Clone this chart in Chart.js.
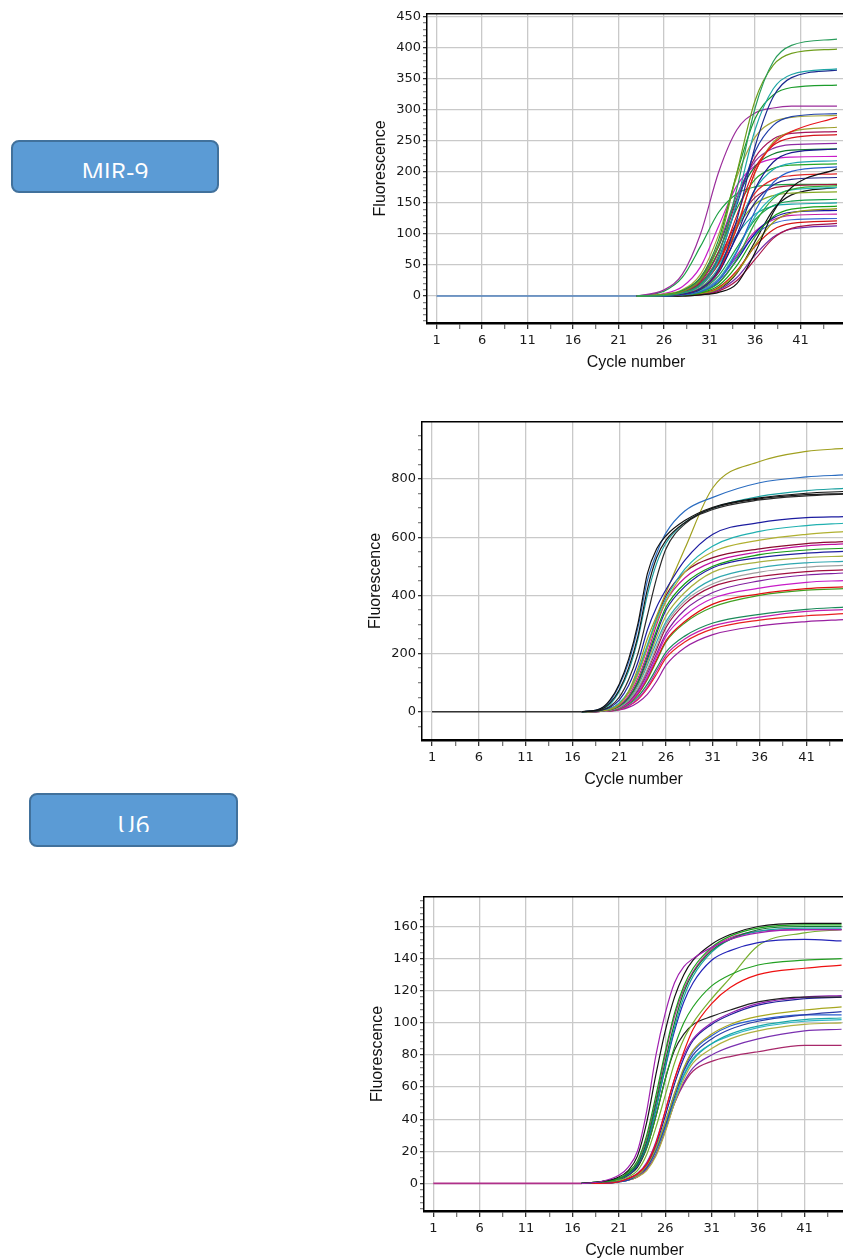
<!DOCTYPE html>
<html>
<head>
<meta charset="utf-8">
<script src="https://cdn.jsdelivr.net/npm/chart.js@4.4.1/dist/chart.umd.min.js"></script>
<style>
  html, body { margin: 0; padding: 0; background: #fff; }
  body { position: relative; width: 843px; height: 1260px; overflow: hidden; }
  canvas { position: absolute; }
  .tag { position: absolute; box-sizing: border-box; background: #5b9bd5; border: 2px solid #41719c; border-radius: 8px; }
  .tag .txt { position: absolute; left: 0; right: 0; overflow: hidden; text-align: center; color: #fff; font: 25px/25px "Open Sans", sans-serif; }
</style>
</head>
<body>
<div class="tag" style="left:11px;top:140px;width:208px;height:53px"><div class="txt" style="top:17px;height:19px">MIR-9</div></div>
<div class="tag" style="left:29px;top:793px;width:209px;height:54px"><div class="txt" style="top:17px;height:20px">U6</div></div>
<canvas id="mir9" width="488" height="369" style="left:357px;top:4px"></canvas>
<canvas id="u6a" width="493" height="378" style="left:352px;top:412px"></canvas>
<canvas id="u6b" width="491" height="374" style="left:354px;top:887px"></canvas>
<script>
// cycle ticks shared by the three amplification plots
const cycleLabels = [1, 6, 11, 16, 21, 26, 31, 36, 41];

// ---- MIR-9 ----
const mir9BaseCycles = [1, 23];
const mir9Base = [0, 0];
const mir9Cycles = [23, 26, 28, 30, 32, 34, 36, 38, 40, 45];
const mir9Runs = [
  [0, 1, 5, 19, 66, 173, 303, 378, 404, 414],
  [0, 2, 7, 26, 83, 199, 315, 372, 391, 398],
  [0, 1, 5, 17, 58, 153, 268, 334, 357, 366],
  [0, 1, 3, 12, 43, 123, 241, 321, 352, 364],
  [0, 2, 9, 30, 91, 198, 286, 324, 336, 340],
  [0, 10, 35, 100, 200, 268, 295, 303, 306, 306],
  [0, 1, 5, 19, 61, 147, 233, 275, 289, 294],
  [0, 3, 10, 35, 99, 192, 256, 281, 288, 291],
  [0, 1, 3, 12, 40, 110, 200, 245, 265, 288],
  [0, 1, 4, 13, 43, 113, 199, 248, 265, 272],
  [0, 2, 7, 23, 71, 155, 223, 253, 262, 265],
  [0, 1, 5, 17, 54, 130, 206, 243, 255, 260],
  [0, 2, 8, 29, 83, 163, 217, 238, 244, 246],
  [0, 1, 3, 11, 38, 99, 173, 216, 231, 237],
  [0, 2, 8, 28, 80, 157, 209, 229, 235, 237],
  [0, 1, 4, 14, 46, 109, 172, 204, 214, 218],
  [0, 2, 7, 25, 72, 141, 188, 206, 211, 213],
  [0, 0, 2, 7, 25, 71, 137, 183, 201, 208],
  [0, 0, 0, 2, 6, 20, 70, 135, 175, 205],
  [0, 1, 5, 17, 53, 115, 166, 188, 194, 197],
  [0, 1, 3, 12, 40, 96, 151, 179, 188, 191],
  [0, 2, 6, 21, 61, 119, 159, 174, 178, 180],
  [0, 0, 2, 6, 21, 60, 118, 157, 172, 178],
  [0, 1, 2, 8, 28, 73, 128, 160, 171, 175],
  [0, 2, 6, 20, 57, 111, 148, 162, 166, 168],
  [0, 1, 3, 10, 33, 78, 123, 146, 153, 156],
  [0, 0, 1, 5, 17, 49, 96, 128, 140, 145],
  [0, 0, 1, 4, 12, 38, 82, 119, 134, 141],
  [0, 0, 2, 6, 22, 58, 101, 126, 135, 138],
  [0, 1, 2, 9, 28, 66, 104, 123, 130, 132],
  [0, 1, 2, 8, 26, 63, 99, 117, 123, 125],
  [0, 0, 1, 4, 14, 41, 80, 107, 117, 121],
  [0, 0, 1, 2, 8, 25, 59, 93, 109, 117],
  [0, 0, 1, 3, 10, 30, 66, 95, 108, 113],
  [0, 0, 1, 3, 11, 37, 88, 139, 163, 175],
  [0, 1, 5, 18, 51, 99, 132, 145, 148, 150],
  [0, 8, 30, 80, 135, 165, 176, 179, 180, 180],
  [0, 4, 15, 47, 113, 178, 210, 221, 224, 225]
];
const mir9Colors = ['#2a9d5c', '#6f9e1c', '#20a6a6', '#1c2b8f', '#1c9c2c', '#9b2d9b', '#2040a8', '#a5a53a',
  '#e8141c', '#9e9e2a', '#a3145a', '#d4141c', '#8e2ba3', '#1a1a8e', '#117a2e', '#1da5b0', '#26a626', '#2a5fcc',
  '#111111', '#e02828', '#22228a', '#a2183a', '#33aa33', '#2ab8b8', '#86a824', '#14a04a', '#18a018', '#9a9a14',
  '#1414a6', '#c41ca8', '#3a66d6', '#d41414', '#a81448', '#7428a8', '#181818', '#14a8a8', '#1ea046', '#c81cc8'];
const mir9YLabels = [0, 50, 100, 150, 200, 250, 300, 350, 400, 450];

// ---- U6, first run ----
const u6aBaseCycles = [1, 17];
const u6aBase = [0, 0];
const u6aCycles = [17, 19, 20, 21, 22, 23, 24, 25, 26, 28, 31, 36, 41, 45];
const u6aRuns = [
  [0, 11, 40, 95, 180, 303, 474, 560, 605, 657, 703, 735, 751, 757],
  [0, 8, 30, 75, 150, 260, 420, 530, 590, 650, 700, 732, 746, 750],
  [0, 5, 18, 50, 110, 200, 330, 460, 560, 645, 695, 728, 742, 748],
  [0, 10, 35, 90, 170, 290, 450, 545, 615, 690, 737, 787, 807, 814],
  [0, 7, 25, 70, 140, 250, 400, 510, 580, 650, 700, 740, 760, 768],
  [0, 5, 15, 40, 90, 170, 280, 360, 420, 520, 610, 650, 667, 671],
  [0, 3, 8, 25, 70, 150, 250, 330, 410, 560, 770, 860, 895, 905],
  [0, 3, 10, 30, 70, 140, 230, 320, 390, 490, 570, 620, 640, 648],
  [0, 3, 10, 28, 65, 130, 220, 310, 380, 480, 550, 590, 610, 619],
  [0, 3, 10, 28, 65, 130, 220, 320, 400, 480, 530, 560, 578, 585],
  [0, 2, 8, 22, 55, 115, 200, 300, 380, 460, 515, 550, 570, 577],
  [0, 2, 7, 20, 50, 105, 190, 280, 360, 440, 500, 540, 556, 562],
  [0, 2, 7, 20, 48, 100, 180, 270, 350, 430, 495, 530, 545, 551],
  [0, 2, 6, 18, 45, 95, 170, 255, 330, 410, 480, 515, 530, 535],
  [0, 2, 6, 17, 42, 90, 160, 240, 310, 390, 455, 495, 512, 517],
  [0, 2, 5, 15, 38, 80, 145, 225, 300, 380, 440, 480, 497, 503],
  [0, 2, 5, 15, 36, 78, 140, 215, 290, 370, 430, 465, 482, 488],
  [0, 1, 5, 14, 34, 72, 130, 200, 270, 350, 410, 450, 470, 477],
  [0, 1, 4, 12, 30, 65, 120, 190, 260, 330, 390, 425, 445, 451],
  [0, 1, 4, 12, 30, 62, 115, 180, 245, 310, 370, 405, 423, 429],
  [0, 1, 4, 11, 28, 60, 110, 175, 240, 305, 360, 400, 418, 423],
  [0, 1, 3, 10, 25, 52, 95, 150, 205, 260, 305, 335, 352, 360],
  [0, 1, 3, 8, 20, 45, 85, 140, 195, 250, 295, 325, 345, 351],
  [0, 1, 3, 8, 20, 42, 80, 130, 185, 240, 285, 315, 330, 337],
  [0, 1, 2, 6, 15, 32, 60, 105, 160, 220, 265, 295, 310, 317]
];
const u6aColors = ['#111111', '#1a1a1a', '#2a2a2a', '#2a6cc0', '#1aa0a0', '#1c1ca0', '#a0a020', '#20b0b0',
  '#b0b030', '#8b0a30', '#c010a0', '#149a14', '#2020a0', '#a8b040', '#30a8b0', '#a0a0a0', '#a01040',
  '#8020a0', '#c81cc8', '#e01010', '#40a020', '#1a8a5a', '#c020b0', '#e82020', '#9a20a0'];
const u6aYLabels = [0, 200, 400, 600, 800];

// ---- U6, second run ----
const u6bBaseCycles = [1, 17];
const u6bBase = [0, 0];
const u6bCycles = [17, 19, 21, 22, 23, 24, 25, 26, 27, 28, 29, 31, 33, 36, 41, 45];
const u6bRuns = [
  [0, 1, 5, 10, 20, 45, 80, 106, 125, 135, 140, 147, 152, 156, 158, 158],
  [0, 1, 4, 8, 17, 38, 68, 95, 116, 130, 139, 149, 155, 160, 162, 162],
  [0, 1, 3, 7, 14, 30, 55, 82, 106, 123, 134, 147, 154, 159, 161, 161],
  [0, 1, 3, 6, 12, 26, 50, 76, 100, 119, 131, 145, 152, 158, 160, 160],
  [0, 1, 3, 6, 12, 25, 47, 73, 97, 116, 129, 144, 152, 157, 159, 159],
  [0, 1, 3, 6, 13, 28, 52, 80, 104, 121, 132, 146, 153, 157, 158, 158],
  [0, 1, 3, 5, 11, 24, 46, 72, 95, 113, 125, 139, 145, 150, 152, 151],
  [0, 1, 3, 5, 11, 22, 42, 65, 85, 100, 110, 123, 130, 136, 139, 140],
  [0, 1, 2, 4, 8, 18, 35, 55, 75, 90, 100, 115, 128, 148, 156, 158],
  [0, 0, 1, 3, 6, 12, 25, 45, 65, 82, 96, 112, 122, 130, 134, 136],
  [0, 1, 2, 5, 10, 22, 42, 65, 83, 93, 99, 104, 108, 113, 116, 116],
  [0, 0, 1, 3, 6, 13, 26, 45, 65, 80, 90, 100, 106, 112, 116, 117],
  [0, 0, 1, 3, 6, 12, 24, 42, 62, 78, 89, 99, 105, 111, 115, 116],
  [0, 0, 1, 3, 5, 11, 22, 38, 56, 72, 83, 93, 99, 104, 108, 110],
  [0, 0, 1, 2, 5, 10, 21, 36, 54, 70, 80, 90, 96, 101, 105, 107],
  [0, 0, 1, 2, 5, 10, 20, 35, 52, 67, 77, 87, 93, 98, 102, 103],
  [0, 0, 1, 3, 6, 12, 22, 38, 55, 68, 78, 87, 92, 97, 101, 102],
  [0, 0, 1, 2, 4, 8, 17, 32, 50, 65, 75, 84, 90, 95, 99, 100],
  [0, 0, 1, 2, 4, 9, 18, 33, 50, 63, 72, 80, 85, 90, 95, 96],
  [0, 0, 1, 2, 4, 9, 18, 33, 50, 62, 70, 76, 79, 82, 86, 86],
  [0, 0, 1, 3, 5, 11, 22, 38, 56, 71, 82, 92, 98, 102, 105, 105]
];
const u6bColors = ['#a020b0', '#111111', '#18a018', '#0e7a30', '#18a0a0', '#c81c9c', '#2424b8', '#22a022',
  '#78b030', '#ee1111', '#222222', '#9020b0', '#20209a', '#a8a820', '#2a3aa8', '#1aa8a8', '#30b8c8',
  '#b0b040', '#7a30b0', '#a8286a', '#2a60d0'];
const u6bYLabels = [0, 20, 40, 60, 80, 100, 120, 140, 160];

const gridGray = '#c9c9c9';
const tickFont = { family: 'DejaVu Sans', size: 13 };
const titleFont = { family: 'Liberation Sans', size: 16 };

// black line on top of the plot box
const frameTop = {
  id: 'frameTop',
  afterDraw(chart) {
    const { ctx, chartArea: a } = chart;
    ctx.save();
    ctx.strokeStyle = '#000';
    ctx.lineWidth = 1.5;
    ctx.beginPath();
    ctx.moveTo(a.left, a.top);
    ctx.lineTo(a.right, a.top);
    ctx.stroke();
    ctx.restore();
  }
};

function series(cycles, values, color, width) {
  return {
    data: cycles.map((c, i) => ({ x: c, y: values[i] })),
    borderColor: color,
    borderWidth: width,
    pointRadius: 0,
    fill: false,
    cubicInterpolationMode: 'monotone'
  };
}

function drawRun(id, o) {
  const datasets = o.runs.map((r, i) => series(o.cycles, r, o.colors[i], 1.2));
  datasets.push(series(o.baseCycles, o.base, o.baseColor, 1.6));

  const xTicks = [];
  cycleLabels.forEach(c => { xTicks.push(c); xTicks.push(c + 2.5); });
  const yTicks = [];
  for (let v = Math.ceil(o.yMin / o.yStep) * o.yStep; v <= o.yMax; v += o.yStep) yTicks.push(v);

  new Chart(document.getElementById(id), {
    type: 'line',
    data: { datasets },
    plugins: [frameTop],
    options: {
      responsive: false,
      animation: false,
      devicePixelRatio: 1,
      layout: { padding: 0, autoPadding: false },
      plugins: { legend: { display: false }, tooltip: { enabled: false } },
      scales: {
        x: {
          type: 'linear', min: o.xMin, max: o.xMax,
          afterBuildTicks: s => { s.ticks = xTicks.filter(v => v <= o.xMax).map(v => ({ value: v })); },
          afterFit: s => { s.height = 50; },
          ticks: {
            autoSkip: false, maxRotation: 0, padding: 4, color: '#1a1a1a', font: tickFont,
            callback: v => cycleLabels.includes(v) ? String(v) : ''
          },
          grid: {
            color: c => cycleLabels.includes(c.tick.value) ? gridGray : 'rgba(0,0,0,0)',
            tickColor: c => cycleLabels.includes(c.tick.value) ? '#333' : '#777',
            tickLength: 6, lineWidth: 1.3
          },
          border: { color: '#000', width: 2.5 },
          title: { display: true, text: 'Cycle number', color: '#111', font: titleFont, padding: { top: 0, bottom: 1 } }
        },
        y: {
          type: 'linear', min: o.yMin, max: o.yMax,
          afterBuildTicks: s => { s.ticks = yTicks.map(v => ({ value: v })); },
          afterFit: s => { s.width = 70; },
          ticks: {
            autoSkip: false, padding: 2, color: '#1a1a1a', font: tickFont,
            callback: v => o.yLabels.includes(v) ? String(v) : ''
          },
          grid: {
            color: c => o.yLabels.includes(c.tick.value) ? gridGray : 'rgba(0,0,0,0)',
            tickColor: c => o.yLabels.includes(c.tick.value) ? '#333' : '#888',
            tickLength: 4, lineWidth: 1.3
          },
          border: { color: '#000', width: 1.5 },
          title: { display: true, text: 'Fluorescence', color: '#111', font: titleFont, padding: { top: 14, bottom: 0 } }
        }
      }
    }
  });
}

drawRun('mir9', {
  runs: mir9Runs, cycles: mir9Cycles, colors: mir9Colors,
  base: mir9Base, baseCycles: mir9BaseCycles, baseColor: '#4f81bd',
  xMin: -0.05, xMax: 45.88, yMin: -43.4, yMax: 454.8, yStep: 10, yLabels: mir9YLabels
});
drawRun('u6a', {
  runs: u6aRuns, cycles: u6aCycles, colors: u6aColors,
  base: u6aBase, baseCycles: u6aBaseCycles, baseColor: '#333333',
  xMin: -0.07, xMax: 45.12, yMin: -97, yMax: 996.6, yStep: 50, yLabels: u6aYLabels
});
drawRun('u6b', {
  runs: u6bRuns, cycles: u6bCycles, colors: u6bColors,
  base: u6bBase, baseCycles: u6bBaseCycles, baseColor: '#b0308a',
  xMin: 0, xMax: 45.37, yMin: -17.2, yMax: 178.5, yStep: 4, yLabels: u6bYLabels
});
</script>
</body>
</html>
